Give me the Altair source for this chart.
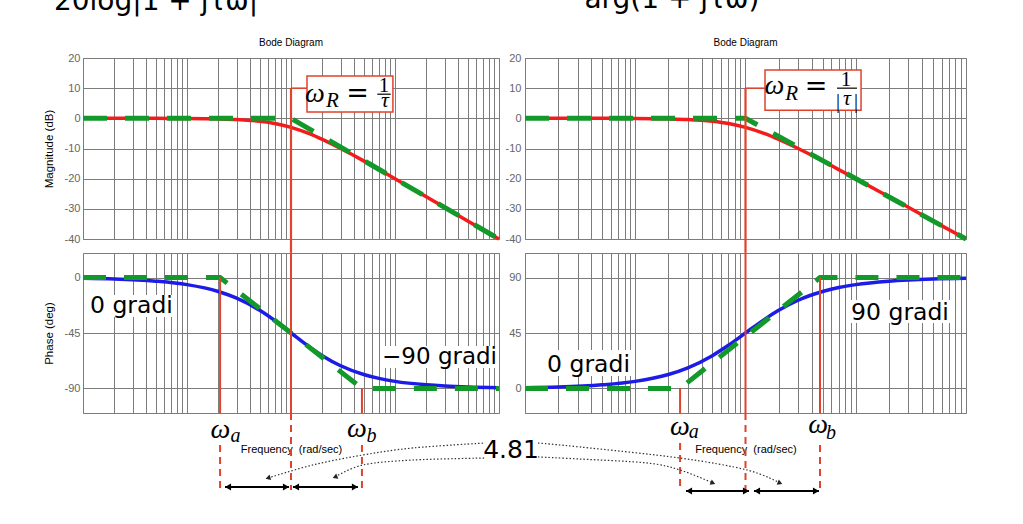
import altair as alt
import pandas as pd

# ---------------- values ----------------
freq = [0.01, 0.02, 0.05, 0.1, 0.2, 0.3, 0.5, 0.7, 1, 1.5, 2, 3, 5, 7, 10, 20, 30, 50, 100]
mag_db = [0.0, 0.0, -0.01, -0.04, -0.17, -0.37, -0.97, -1.7, -3.0, -5.1, -7.0, -10.0,
          -14.1, -17.0, -20.0, -26.0, -29.5, -34.0, -40.0]
phase_lag = [-0.6, -1.1, -2.9, -5.7, -11.3, -16.7, -26.6, -35.0, -45.0, -56.3, -63.4,
             -71.6, -78.7, -81.9, -84.3, -87.1, -88.1, -88.9, -89.4]
phase_lead = [0.6, 1.1, 2.9, 5.7, 11.3, 16.7, 26.6, 35.0, 45.0, 56.3, 63.4,
              71.6, 78.7, 81.9, 84.3, 87.1, 88.1, 88.9, 89.4]

asym_mag_f = [0.01, 1, 100]
asym_mag_db = [0, 0, -40]

w_R = 1.0
w_a_left, w_b_left = 0.208, 4.81
w_a_right, w_b_right = 0.255, 4.74
asym_lag_f = [0.01, w_a_left, w_b_left, 100]
asym_lag_deg = [0, 0, -90, -90]
asym_lead_f = [0.01, w_a_right, w_b_right, 100]
asym_lead_deg = [0, 0, 90, 90]

mag_ticks = [-40, -30, -20, -10, 0, 10, 20]
lag_ticks = [-90, -45, 0]
lead_ticks = [0, 45, 90]
freq_grid = [round(m * 10 ** e, 6) for e in range(-2, 2) for m in range(1, 10)] + [100]

ratio_text = "4.81"
title_text = "Bode Diagram"
freq_title = "Frequency\u00a0 (rad/sec)"

# ---------------- styles ----------------
RED = "#f21c1c"
VRED = "#e2412b"
GREEN = "#12992a"
BLUE = "#1c1ce6"
GRID = "#7c7c7c"
SANS = "Liberation Sans"
MATH = "Liberation Serif"
TXT = "DejaVu Sans"
DOT = "#333333"

XS = alt.Scale(type="log", domain=[0.01, 100], nice=False)
Y_MAG = alt.Scale(domain=[-40, 20], nice=False, zero=False)
Y_LAG = alt.Scale(domain=[-110, 20], nice=False, zero=False)
Y_LEAD = alt.Scale(domain=[-20, 110], nice=False, zero=False)


def frame(**cols):
    return pd.DataFrame(cols)


def xaxis(title=None):
    kw = dict(values=freq_grid, grid=True, labels=False, ticks=False, domain=False,
              gridColor=GRID, gridWidth=1, gridOpacity=1)
    if title:
        kw.update(title=title, titleFont=SANS, titleFontSize=11, titleFontWeight="normal",
                  titleColor="black", titleY=39, titleBaseline="alphabetic")
    else:
        kw.update(title=None)
    return alt.Axis(**kw)


def yaxis(values, title=None, pad=3):
    kw = dict(values=values, grid=True, ticks=False, domain=False, gridColor=GRID,
              gridWidth=1, gridOpacity=1, labelColor="#666666", labelFont=SANS,
              labelFontSize=11, labelPadding=pad, labelExpr="'' + datum.value")
    if title:
        kw.update(title=title, titleFont=SANS, titleFontSize=11.5, titleFontWeight="normal",
                  titleColor="black", titleX=-34, titleBaseline="middle", titleAlign="center")
    else:
        kw.update(title=None)
    return alt.Axis(**kw)


class Panel:
    def __init__(self, ys, ax_x, ax_y):
        self.ys, self.ax_x, self.ax_y = ys, ax_x, ax_y
        self.layers = []

    def enc(self):
        return dict(x=alt.X("f:Q", scale=XS, axis=self.ax_x),
                    y=alt.Y("v:Q", scale=self.ys, axis=self.ax_y))

    def curve(self, fs, vs, color, width, dash=None, interp="monotone"):
        mk = dict(color=color, strokeWidth=width, interpolate=interp)
        if dash:
            mk["strokeDash"] = dash
        self.layers.append(alt.Chart(frame(f=fs, v=vs)).mark_line(**mk).encode(**self.enc()))

    def vrules(self, fs, vs, v2s, color=VRED, width=2.0, dash=None):
        mk = dict(color=color, strokeWidth=width)
        if dash:
            mk["strokeDash"] = dash
        self.layers.append(alt.Chart(frame(f=fs, v=vs, v2=v2s)).mark_rule(**mk).encode(
            **self.enc(), y2="v2:Q"))

    def hrules(self, fs, f2s, vs, color="black", width=2.0):
        self.layers.append(alt.Chart(frame(f=fs, f2=f2s, v=vs)).mark_rule(
            color=color, strokeWidth=width).encode(**self.enc(), x2="f2:Q"))

    def box(self, f, f2, v, v2, stroke=None):
        mk = dict(fill="white", opacity=1)
        if stroke:
            mk.update(stroke=stroke, strokeWidth=1.5)
        self.layers.append(alt.Chart(frame(f=[f], f2=[f2], v=[v], v2=[v2])).mark_rect(**mk).encode(
            **self.enc(), x2="f2:Q", y2="v2:Q"))

    def text(self, t, f, v, size, font, style="normal", color="black", align="center"):
        self.layers.append(alt.Chart(frame(t=[t], f=[f], v=[v])).mark_text(
            fontSize=size, font=font, fontStyle=style, color=color, align=align,
            baseline="alphabetic").encode(**self.enc(), text="t:N"))

    def heads(self, fs, vs, angles, size, color="black", xoff=0):
        self.layers.append(alt.Chart(frame(f=fs, v=vs, a=angles)).mark_point(
            shape="triangle-up", filled=True, size=size, color=color, opacity=1,
            strokeWidth=0, xOffset=xoff).encode(**self.enc(), angle=alt.Angle("a:Q", scale=None)))

    def omega(self, sub, f, v, fs, vs):
        self.text("ω", f, v, 28, MATH, "italic")
        self.text(sub, fs, vs, 20, MATH, "italic")

    def chart(self, **props):
        return alt.layer(*self.layers).properties(**props)


bode_title = alt.TitleParams(title_text, fontSize=10, font=SANS, fontWeight="normal",
                             color="black", offset=4, anchor="middle")

# ---------------- magnitude, left ----------------
p = Panel(Y_MAG, xaxis(), yaxis(mag_ticks, "Magnitude (dB)"))
p.curve(freq, mag_db, RED, 3.5)
p.curve(asym_mag_f, asym_mag_db, GREEN, 5, dash=[24, 18], interp="linear")
p.vrules([w_R], [10], [-44.6], width=2.2)
p.hrules([w_R], [1.425], [10], color=VRED, width=1.5)
p.box(1.425, 9.55, 2.1, 14.0, stroke=VRED)
p.text("ω", 1.70, 5.3, 28, MATH, "italic")
p.text("R", 2.50, 3.6, 21, MATH, "italic")
p.text("=", 4.36, 5.5, 27, "DejaVu Serif")
p.text("1", 7.83, 8.73, 21, MATH)
p.hrules([6.76], [9.1], [8.0], color="black", width=1.2)
p.text("τ", 8.02, 3.6, 22, MATH, "italic")
magL = p.chart(width=416, height=181, title=bode_title)

# ---------------- magnitude, right ----------------
p = Panel(Y_MAG, xaxis(), yaxis(mag_ticks, pad=4))
p.curve(freq, mag_db, RED, 3.5)
p.curve(asym_mag_f, asym_mag_db, GREEN, 5, dash=[24, 18], interp="linear")
p.vrules([w_R], [10], [-44.6], width=2.2)
p.hrules([w_R], [1.503], [10], color=VRED, width=1.5)
p.box(1.503, 11.17, 2.67, 16.0, stroke=VRED)
p.text("ω", 1.83, 8.2, 28, MATH, "italic")
p.text("R", 2.62, 6.0, 21, MATH, "italic")
p.text("=", 4.36, 7.6, 27, "DejaVu Serif")
p.text("1", 8.16, 10.8, 21, MATH)
p.hrules([6.76], [10.26], [10.0], color="black", width=1.2)
p.text("|", 6.90, 3.4, 20, MATH)
p.text("τ", 8.33, 4.33, 22, MATH, "italic")
p.text("|", 10.05, 3.4, 20, MATH)
magR = p.chart(width=441, height=181, title=bode_title)

# ---------------- phase, left ----------------
p = Panel(Y_LAG, xaxis(freq_title), yaxis(lag_ticks, "Phase (deg)"))
p.box(0.01117, 0.0767, -32.0, -14.1)
p.box(7.18, 95.7, -73.4, -55.6)
p.curve(freq, phase_lag, BLUE, 3.5)
p.curve(asym_lag_f, asym_lag_deg, GREEN, 5, dash=[23, 18], interp="linear")
p.vrules([w_R, w_a_left, w_b_left], [20, 0, -90], [-110, -110, -110])
p.vrules([w_R, w_a_left, w_b_left], [-110, -136, -136], [-172.6, -172.6, -172.6], dash=[7, 5])
p.text("0 gradi", 0.0292, -28.75, 23.5, TXT)
p.text("−90 gradi", 26.8, -70.2, 23, TXT)
p.omega("a", 0.210, -130.3, 0.292, -133.6)
p.omega("b", 4.30, -129.5, 5.95, -133.6)
p.hrules([0.232, 1.045], [0.957, 4.40], [-170.1, -170.1], width=2)
p.heads([0.232, 1.045], [-170.1, -170.1], [270, 270], 50, xoff=3)
p.heads([0.957, 4.40], [-170.1, -170.1], [90, 90], 50, xoff=-3)
p.curve([73.3, 14.9, 4.92, 1.627, 0.601], [-134.4, -138.4, -144.1, -152.2, -162.8],
        DOT, 1.2, dash=[1.5, 2], interp="cardinal")
p.curve([73.3, 14.9, 4.92, 2.65], [-146.6, -148.2, -152.2, -162.0],
        DOT, 1.2, dash=[1.5, 2], interp="cardinal")
p.heads([0.601, 2.65], [-162.8, -162.0], [254, 247], 32, color="#222222")
p.text(ratio_text, 130.4, -146.6, 25, TXT)
p.text("20log|1 + jτω|", 0.0504, 217.4, 28, TXT)
phaseL = p.chart(width=416, height=160)

# ---------------- phase, right ----------------
p = Panel(Y_LEAD, xaxis(freq_title), yaxis(lead_ticks, pad=4))
p.box(0.01487, 0.0954, 10.1, 31.2)
p.box(8.16, 76.2, 53.1, 71.8)
p.curve(freq, phase_lead, BLUE, 3.5)
p.curve(asym_lead_f, asym_lead_deg, GREEN, 5, dash=[23, 18], interp="linear")
p.vrules([w_R, w_a_right, w_b_right], [110, 0, 90], [-20, -20, -20])
p.vrules([w_R, w_a_right, w_b_right], [-20, -44.4, -46], [-84.2, -80.9, -82.6], dash=[7, 5])
p.text("0 gradi", 0.0377, 13.3, 23.5, TXT)
p.text("90 gradi", 25.2, 55.6, 23.5, TXT)
p.omega("a", 0.2547, -37.9, 0.340, -40.3)
p.omega("b", 4.55, -36.2, 5.95, -41.1)
p.hrules([0.2886, 1.194], [1.076, 4.64], [-83.4, -83.4], width=2)
p.heads([0.2886, 1.194], [-83.4, -83.4], [270, 270], 50, xoff=3)
p.heads([1.076, 4.64], [-83.4, -83.4], [90, 90], 50, xoff=-3)
p.curve([0.01312, 0.03155, 0.2547, 1.032, 2.056], [-44.4, -47.6, -56.6, -66.3, -76.9],
        DOT, 1.2, dash=[1.5, 2], interp="cardinal")
p.curve([0.01312, 0.03155, 0.1278, 0.2547, 0.507], [-55.7, -57.4, -60.6, -66.3, -76.9],
        DOT, 1.2, dash=[1.5, 2], interp="cardinal")
p.heads([2.056, 0.507], [-76.9, -76.9], [112, 112], 32, color="#222222")
p.text("arg(1 + jτω)", 0.215, 309.0, 28, TXT)
phaseR = p.chart(width=441, height=160)

chart = alt.concat(
    magL, magR, phaseL, phaseR,
    columns=2, spacing={"row": 14, "column": 26}, bounds="flush",
).properties(
    autosize=alt.AutoSizeParams(type="none"),
    padding={"left": 83, "top": 58, "right": 940, "bottom": 466},
    background="white",
).configure_view(stroke=GRID, strokeWidth=1)

chart.save("out.html", embed_options={"renderer": "svg", "actions": False})
